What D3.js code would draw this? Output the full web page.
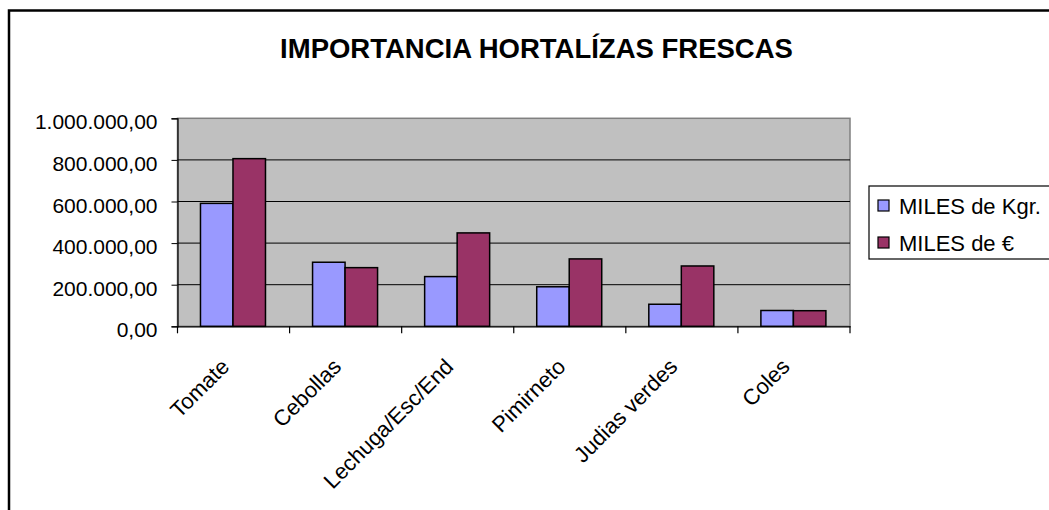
<!DOCTYPE html>
<html>
<head>
<meta charset="utf-8">
<script src="https://cdn.jsdelivr.net/npm/d3@7"></script>
<style>
  body { margin: 0; background: #ffffff; }
  svg { display: block; font-family: Arial, "Liberation Sans", sans-serif; }
</style>
</head>
<body>
<svg id="chart" width="1049" height="510"></svg>
<script>
// data
let categories = ["Tomate", "Cebollas", "Lechuga/Esc/End", "Pimirneto", "Judias verdes", "Coles"];
let seriesNames = ["MILES de Kgr.", "MILES de €"];
let kgValues = [591000, 308000, 239000, 190000, 106000, 76000];
let euroValues = [806000, 282000, 449000, 324000, 290000, 75000];
let yTicks = [0, 200000, 400000, 600000, 800000, 1000000];

let blueColor = "#9999ff";
let maroonColor = "#993366";
let plotColor = "#c0c0c0";

let svg = d3.select("#chart");

let plotLeft = 177.5, plotRight = 850, plotTop = 118.3, plotBottom = 326.3;

// outer chart border (only left and top are inside the window)
svg.append("rect")
  .attr("x", 9)
  .attr("y", 10.5)
  .attr("width", 1200)
  .attr("height", 700)
  .style("fill", "#ffffff")
  .style("stroke", "#000000")
  .style("stroke-width", 2.5);

// title
svg.append("text")
  .attr("x", 536.5)
  .attr("y", 58)
  .text("IMPORTANCIA HORTALÍZAS FRESCAS")
  .style("text-anchor", "middle")
  .style("font-weight", "bold")
  .style("font-size", "27.5px");

// scales
let yScale = d3.scaleLinear()
  .domain([0, 1000000])
  .range([plotBottom, plotTop]);

let x0 = d3.scaleBand()
  .domain(categories)
  .range([plotLeft, plotRight]);

let x1 = d3.scaleBand()
  .domain(seriesNames)
  .range([x0.bandwidth() * 0.205, x0.bandwidth() * 0.785]);

// plot area
svg.append("rect")
  .attr("x", plotLeft)
  .attr("y", plotTop)
  .attr("width", plotRight - plotLeft)
  .attr("height", plotBottom - plotTop)
  .style("fill", plotColor)
  .style("stroke", "#808080")
  .style("stroke-width", 1.5);

// gridlines
svg.selectAll(".grid")
  .data(yTicks.slice(1, -1))
  .enter()
  .append("line")
  .attr("class", "grid")
  .attr("x1", plotLeft)
  .attr("x2", plotRight)
  .attr("y1", d => yScale(d))
  .attr("y2", d => yScale(d))
  .style("stroke", "#000000")
  .style("stroke-width", 1);

// bars
let rows = categories.map((c, i) => ({category: c, values: [kgValues[i], euroValues[i]]}));
let colors = d3.scaleOrdinal().domain(seriesNames).range([blueColor, maroonColor]);

svg.selectAll(".group")
  .data(rows)
  .enter()
  .append("g")
  .attr("class", "group")
  .attr("transform", d => "translate(" + x0(d.category) + ",0)")
  .selectAll("rect")
  .data(d => d.values.map((v, j) => ({name: seriesNames[j], value: v})))
  .enter()
  .append("rect")
  .attr("x", d => x1(d.name))
  .attr("y", d => yScale(d.value))
  .attr("width", x1.bandwidth())
  .attr("height", d => plotBottom - yScale(d.value))
  .style("fill", d => colors(d.name))
  .style("stroke", "#000000")
  .style("stroke-width", 1.5);

// y axis
let yAxis = d3.axisLeft(yScale)
  .tickValues(yTicks)
  .tickSize(6)
  .tickFormat(d => d3.format(",.2f")(d).replace(/,/g, "#").replace(".", ",").replace(/#/g, "."));

let yG = svg.append("g")
  .attr("transform", "translate(" + plotLeft + ",0)")
  .call(yAxis);
yG.select(".domain").style("stroke", "#000000").style("stroke-width", 1.2);
yG.selectAll(".tick line").style("stroke", "#000000");
yG.selectAll(".tick text")
  .attr("x", -20)
  .attr("dy", "0.5em")
  .style("font-size", "21px")
  .style("font-family", "Arial, 'Liberation Sans', sans-serif")
  .style("fill", "#000000");

// x axis: ticks between categories
let xAxis = d3.axisBottom(x0).tickSize(0).tickFormat("");
let xG = svg.append("g")
  .attr("transform", "translate(0," + plotBottom + ")")
  .call(xAxis);
xG.select(".domain").style("stroke", "#000000").style("stroke-width", 1.2);

svg.selectAll(".xtick")
  .data(categories.concat(["end"]))
  .enter()
  .append("line")
  .attr("class", "xtick")
  .attr("x1", (d, i) => i < categories.length ? x0(d) : plotRight)
  .attr("x2", (d, i) => i < categories.length ? x0(d) : plotRight)
  .attr("y1", plotBottom)
  .attr("y2", plotBottom + 7)
  .style("stroke", "#000000")
  .style("stroke-width", 1.2);

// rotated category labels
svg.selectAll(".xlabel")
  .data(categories)
  .enter()
  .append("text")
  .attr("class", "xlabel")
  .attr("transform", d => "translate(" + (x0(d) + x0.bandwidth() / 2 - 3) + "," + 368 + ") rotate(-45)")
  .text(d => d)
  .style("text-anchor", "end")
  .style("font-size", "22px");

// legend
svg.append("rect")
  .attr("x", 869)
  .attr("y", 186)
  .attr("width", 300)
  .attr("height", 73)
  .style("fill", "#ffffff")
  .style("stroke", "#000000")
  .style("stroke-width", 1.2);

let legend = svg.selectAll(".legendItem")
  .data(seriesNames)
  .enter()
  .append("g")
  .attr("class", "legendItem")
  .attr("transform", (d, i) => "translate(878," + (200 + i * 37) + ")");

legend.append("rect")
  .attr("width", 11)
  .attr("height", 11)
  .style("fill", d => colors(d))
  .style("stroke", "#000000")
  .style("stroke-width", 1.2);

legend.append("text")
  .attr("x", 21)
  .attr("y", 13.5)
  .text(d => d)
  .style("font-size", "22px");
</script>
</body>
</html>
